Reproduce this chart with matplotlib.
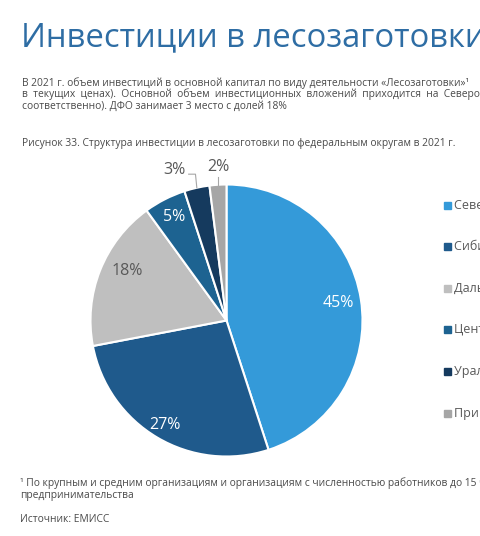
import matplotlib.pyplot as plt
import numpy as np
from matplotlib.patches import Rectangle

plt.rcParams["font.family"] = ["Open Sans", "DejaVu Sans"]

# data
districts = [
    "Северо-Западный ФО",
    "Сибирский ФО",
    "Дальневосточный ФО",
    "Центральный ФО",
    "Уральский ФО",
    "Приволжский ФО",
]
shares = [45, 27, 18, 5, 3, 2]
colors = ["#349ad9", "#1f5a8c", "#bfbfbf", "#1d6391", "#153a5e", "#a6a6a6"]
label_colors = ["white", "white", "#595959", "white", "#595959", "#595959"]

title = "Инвестиции в лесозаготовки"
body_lines = [
    "В 2021 г. объем инвестиций в основной капитал по виду деятельности «Лесозаготовки»¹",
    "в текущих ценах). Основной объем инвестиционных вложений приходится на Северо-Западный",
    "соответственно). ДФО занимает 3 место с долей 18%",
]
justified = [False, True, False]
caption = "Рисунок 33. Структура инвестиции в лесозаготовки по федеральным округам в 2021 г."
footnote_lines = [
    "¹ По крупным и средним организациям и организациям с численностью работников до 15 человек",
    "предпринимательства",
]
source = "Источник: ЕМИСС"

W, H = 480, 536
fig = plt.figure(figsize=(W / 100, H / 100), dpi=100)


def fx(px):
    return px / W


def fy(py):
    return 1 - py / H


text_col = "#4a4a4a"
fig.text(fx(21), fy(38), title, fontsize=23.6, color="#2e6da4",
         va="center", ha="left")
for i, (line, just) in enumerate(zip(body_lines, justified)):
    if just:
        # the paragraph is justified, so its middle line has wider gaps
        line = "  ".join(line.split(" "))
    fig.text(fx(22), fy(83 + i * 11.6), line, fontsize=7.4, color=text_col,
             va="center", ha="left")
fig.text(fx(22), fy(143), caption, fontsize=7.4, color=text_col,
         va="center", ha="left")
for i, line in enumerate(footnote_lines):
    fig.text(fx(20), fy(483 + i * 12.5), line, fontsize=7.4, color=text_col,
             va="center", ha="left")
fig.text(fx(20), fy(519), source, fontsize=7.4, color=text_col,
         va="center", ha="left")

# pie
cx, cy, r = 226.5, 320.5, 136
ax = fig.add_axes([fx(cx - r), fy(cy + r), 2 * r / W, 2 * r / H])
wedges, _ = ax.pie(shares, colors=colors, startangle=90, counterclock=False,
                   radius=1, wedgeprops=dict(edgecolor="white", linewidth=1.5))
ax.set_xlim(-1, 1)
ax.set_ylim(-1, 1)
ax.set_aspect("auto")
ax.axis("off")

label_dist = [0.83, 0.89, 0.82, 0.85]
for w, val, lc, d in zip(wedges, shares, label_colors, label_dist):
    mid = np.deg2rad((w.theta1 + w.theta2) / 2)
    if val == 18:
        mid -= np.deg2rad(5)
    ax.text(d * np.cos(mid), d * np.sin(mid), f"{val}%", fontsize=11.5,
            color=lc, ha="center", va="center")

# small slices with leader lines
s3, s2 = wedges[4], wedges[5]
m3 = np.deg2rad((s3.theta1 + s3.theta2) / 2)
m2 = np.deg2rad((s2.theta1 + s2.theta2) / 2)
p3 = (np.cos(m3), np.sin(m3))
p2 = (np.cos(m2), np.sin(m2))
ax.plot([p3[0], p3[0] - 0.01, p3[0] - 0.06], [p3[1], p3[1] + 0.1, p3[1] + 0.1],
        color="#a6a6a6", lw=0.8, clip_on=False)
ax.text(p3[0] - 0.08, p3[1] + 0.13, f"{shares[4]}%", fontsize=11.5,
        color="#595959", ha="right", va="center")
ax.plot([p2[0], p2[0]], [p2[1], p2[1] + 0.06], color="#a6a6a6", lw=0.8,
        clip_on=False)
ax.text(p2[0], p2[1] + 0.13, f"{shares[5]}%", fontsize=11.5,
        color="#595959", ha="center", va="center")

# legend drawn by hand on the right (cut by the page edge, as in the reference)
for i, (name, c) in enumerate(zip(districts, colors)):
    y = 205 + i * 41.6
    fig.patches.append(Rectangle((fx(444), fy(y + 3.5)), 7 / W, 7 / H,
                                 transform=fig.transFigure, color=c))
    fig.text(fx(454), fy(y), name, fontsize=9, color="#595959",
             va="center", ha="left")

fig.savefig("out.png", dpi=100)
